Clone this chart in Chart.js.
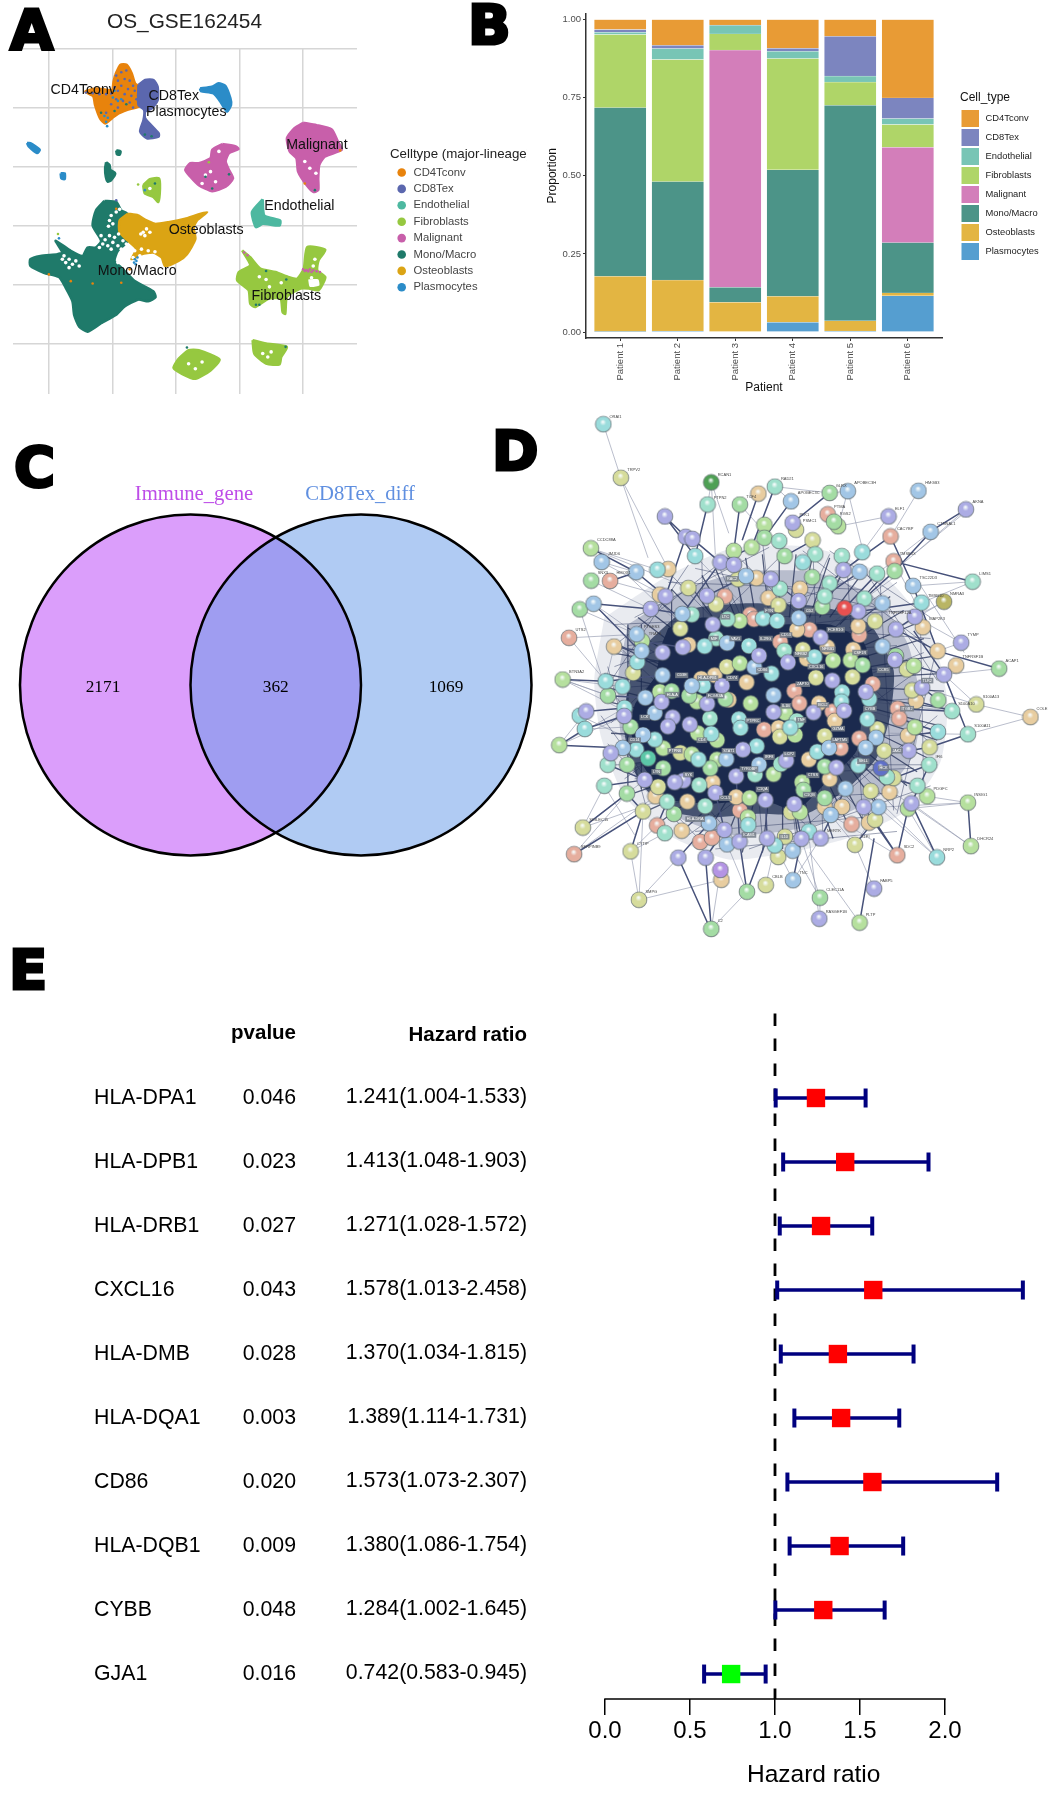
<!DOCTYPE html>
<html>
<head>
<meta charset="utf-8">
<title>OS_GSE162454</title>
<script src="https://cdn.jsdelivr.net/npm/chart.js@4"></script>
<style>
  html, body { margin: 0; background: #fff; width: 1054px; height: 1794px; overflow: hidden; }
  canvas { position: absolute; }
  .tag { position: absolute; font: bold 56px "DejaVu Sans"; line-height: 56px; color: #000; -webkit-text-stroke: 3px #000; }
</style>
</head>
<body>
<canvas id="umap" width="527" height="400" style="left:0;top:0"></canvas>
<canvas id="stack" width="527" height="400" style="left:527px;top:0"></canvas>
<canvas id="venn" width="570" height="550" style="left:0;top:400px"></canvas>
<canvas id="network" width="527" height="550" style="left:527px;top:400px"></canvas>
<canvas id="forest" width="1054" height="792" style="left:0;top:1002px"></canvas>
<div class="tag" style="left:10px;top:2px">A</div>
<div class="tag" style="left:468px;top:-3px">B</div>
<div class="tag" style="left:14px;top:439px">C</div>
<div class="tag" style="left:492px;top:423px">D</div>
<div class="tag" style="left:9px;top:942px">E</div>
<script>
// ---- panel A: cluster outlines on the UMAP plane (axes carry no numbers)
const cellTypes = ['CD4Tconv', 'CD8Tex', 'Endothelial', 'Fibroblasts', 'Malignant', 'Mono/Macro', 'Osteoblasts', 'Plasmocytes'];
const umapColors = ['#E8830C', '#5B67AE', '#4DB8A0', '#96C840', '#C85FAA', '#1F7A6A', '#DBA414', '#2B8CC8'];
const umapGridX = [146, 334, 522, 711, 900];
const umapGridY = [146, 320, 495, 670, 845, 1020];

const cd4Outline = [[342,223],[357,193],[376,193],[391,218],[401,248],[421,263],[421,312],[376,327],[352,337],[332,352],[312,367],[297,352],[282,312],[277,287],[253,272],[287,263],[332,268],[337,243]];
const cd8Outline = [[411,253],[431,238],[456,238],[468,258],[468,298],[451,322],[431,332],[431,352],[471,396],[471,406],[436,411],[416,391],[426,357],[428,327],[411,312]];
const plasmaOutline = [[594,263],[629,258],[649,248],[669,255],[684,292],[686,312],[674,332],[654,302],[634,278],[596,271]];
const plasmaSmallA = [[80,425],[90,425],[118,445],[110,455],[85,435]];
const plasmaSmallB = [[180,515],[192,515],[192,532],[182,530]];
const malignantBig = [[900,365],[940,372],[985,385],[1003,420],[1015,445],[965,465],[948,490],[945,530],[945,565],[930,570],[910,550],[885,510],[880,470],[860,450],[852,410],[875,380]];
const malignantSmall = [[660,428],[700,435],[708,443],[680,455],[670,480],[680,505],[692,530],[670,555],[630,568],[590,550],[565,525],[550,505],[565,485],[590,485],[625,470],[630,445]];
const fibroSmall = [[425,550],[445,532],[472,530],[475,560],[470,600],[455,585],[430,575]];
const fibroLarge = [[719,744],[743,764],[773,798],[818,808],[857,823],[882,828],[902,798],[912,734],[966,742],[946,773],[942,803],[966,823],[946,862],[917,857],[892,857],[852,882],[847,932],[839,927],[833,887],[798,887],[758,912],[743,902],[738,862],[704,833],[709,808],[743,788]];
const fibroHole = [[915,830],[945,830],[948,848],[920,852]];
const fibroBottomA = [[530,1065],[560,1040],[590,1040],[652,1068],[625,1100],[580,1125],[540,1110],[515,1092]];
const fibroBottomB = [[750,1010],[790,1020],[852,1030],[835,1060],[830,1082],[790,1080],[755,1050]];
const endoOutline = [[780,592],[785,640],[832,655],[830,670],[780,665],[760,675],[748,630]];
const osteoOutline = [[380,635],[410,640],[435,655],[460,665],[500,660],[550,650],[580,640],[615,630],[585,655],[575,675],[580,710],[555,755],[530,775],[490,790],[480,765],[455,750],[420,755],[390,770],[405,740],[380,715],[355,690],[355,655]];
const monoOutline = [[310,597],[345,600],[360,625],[378,635],[355,655],[355,690],[380,715],[350,745],[340,775],[360,795],[385,820],[400,835],[455,865],[462,883],[440,895],[410,890],[370,910],[345,935],[300,960],[260,985],[235,970],[220,935],[215,895],[195,855],[175,823],[130,810],[90,790],[90,770],[120,760],[170,755],[185,750],[165,715],[210,745],[245,760],[260,735],[285,735],[300,715],[275,670],[285,625]];
const monoSmallA = [[315,482],[325,490],[328,505],[342,515],[330,535],[320,540],[314,525],[312,500]];
const monoSmallB = [[345,447],[358,450],[355,460],[347,458]];

const umapGaps = [[300,700],[312,712],[325,700],[340,705],[352,695],[305,725],[320,730],[335,720],[350,730],[365,715],[375,725],[360,740],[295,735],[330,740],[355,770],[370,755],[385,750],[400,745],[365,785],[350,780],[380,770],[395,765],[415,760],[420,740],[440,745],[460,748],[445,760],[425,690],[435,680],[445,690],[430,700],[418,695],[185,770],[195,780],[205,770],[215,785],[225,775],[235,790],[205,795],[190,760],[330,640],[325,655],[335,665],[322,672],[345,630],[355,622],[790,830],[770,822],[835,840],[800,852],[930,790],[935,770],[925,825],[650,450],[640,540],[600,545],[625,510],[610,520],[905,480],[920,500],[938,515],[560,1080],[600,1075],[580,1095],[780,1050],[805,1045],[795,1060],[445,560],[350,1090]];
const umapSpecks = {
  'CD4Tconv': [[385,800],[145,815],[210,835],[275,842],[360,840],[905,545],[1010,447],[345,620]],
  'CD8Tex': [[345,595],[255,275],[275,277],[295,280],[315,280],[330,278],[345,225],[360,215],[375,210],[350,240],[370,235],[385,240],[395,255],[360,255],[340,260],[380,265],[400,270],[350,270],[370,280],[390,285],[405,295],[385,305],[365,300],[345,295],[330,310],[350,320],[315,335],[395,320],[410,285],[440,400],[460,400]],
  'Fibroblasts': [[620,482],[172,695],[410,548]],
  'Malignant': [[725,750],[735,758],[900,800],[910,802],[920,800],[930,803],[940,806],[950,808],[905,805],[915,806],[925,808],[610,530]],
  'Mono/Macro': [[790,805],[850,830],[760,905],[430,400],[450,405],[610,525],[630,560],[680,518],[460,545],[935,565],[555,1032],[848,1030],[770,905],[300,335],[340,330],[375,310]],
  'Plasmocytes': [[335,290],[350,300],[320,350],[315,362],[360,295],[400,770],[405,775],[408,765],[398,780],[403,785],[175,708],[430,565],[340,270],[310,345],[318,375]]
};
const umapLabels = [['CD4Tconv',247,268],['CD8Tex',516,285],['Plasmocytes',553,334],['Malignant',941,432],['Endothelial',889,613],['Osteoblasts',612,682],['Mono/Macro',407,804],['Fibroblasts',850,880]];

// ---- panel B: proportion per patient, bottom of the stack first
const patients = ['Patient 1', 'Patient 2', 'Patient 3', 'Patient 4', 'Patient 5', 'Patient 6'];
const stackOrder = ['Plasmocytes', 'Osteoblasts', 'Mono/Macro', 'Malignant', 'Fibroblasts', 'Endothelial', 'CD8Tex', 'CD4Tconv'];
const plasmocytes = [0.002, 0.003, 0, 0.031, 0.003, 0.116];
const osteoblasts = [0.176, 0.163, 0.095, 0.083, 0.033, 0.009];
const monoMacro = [0.540, 0.315, 0.048, 0.405, 0.689, 0.161];
const malignant = [0, 0, 0.759, 0, 0, 0.305];
const fibroblasts = [0.234, 0.391, 0.052, 0.356, 0.075, 0.073];
const endothelial = [0.007, 0.035, 0.027, 0.023, 0.019, 0.019];
const cd8tex = [0.009, 0.010, 0.001, 0.010, 0.127, 0.066];
const cd4tconv = [0.032, 0.083, 0.018, 0.092, 0.054, 0.251];
const stackColors = { 'CD4Tconv': '#E89B35', 'CD8Tex': '#7C85BF', 'Endothelial': '#78C5B5', 'Fibroblasts': '#AFD568', 'Malignant': '#D37EBA', 'Mono/Macro': '#4C9488', 'Osteoblasts': '#E3B542', 'Plasmocytes': '#559ED0' };
const proportionTicks = [0, 0.25, 0.5, 0.75, 1];

// ---- panel C: set sizes
const vennSets = ['Immune_gene', 'CD8Tex_diff'];
const vennCounts = [2171, 362, 1069];

// ---- panel D: STRING network, layout units (axes carry no numbers)
const nodesLavender = [[1305,312],[410,332],[1075,332],[790,350],[472,390],[492,396],[575,463],[615,470],[941,485],[725,511],[535,558],[412,560],[808,573],[368,596],[985,603],[1153,618],[552,640],[1097,654],[873,677],[463,705],[1291,692],[403,720],[690,729],[1094,741],[776,748],[1240,783],[908,800],[580,815],[1175,820],[1007,832],[536,866],[400,861],[176,888],[733,890],[852,891],[943,886],[289,901],[433,905],[484,925],[419,931],[642,997],[1135,1000],[249,1007],[771,1028],[920,1048],[622,1073],[350,1083],[465,1085],[439,1090],[560,1120],[709,1141],[1143,1150],[795,1152],[1001,1161],[587,1226],[632,1259],[714,1250],[816,1251],[873,1250],[450,1305],[531,1305],[1032,1393],[869,1479]];
const nodesBlue = [[1164,259],[785,289],[1200,376],[222,462],[325,491],[989,490],[651,502],[1148,530],[1057,580],[198,581],[462,610],[808,622],[326,668],[595,693],[1057,703],[341,716],[676,762],[403,785],[490,815],[733,842],[352,849],[380,892],[345,955],[1038,963],[285,992],[898,992],[1007,992],[593,1024],[690,1040],[947,1108],[1045,1161],[903,1183],[541,1207],[595,1267],[790,1285],[791,1369],[954,260]];
const nodesTeal = [[227,69],[997,434],[500,445],[820,463],[388,484],[1173,578],[702,623],[744,630],[660,701],[528,702],[855,733],[328,747],[727,780],[234,802],[524,815],[284,817],[937,833],[1018,853],[290,878],[935,860],[157,900],[630,910],[1012,910],[172,938],[635,935],[783,934],[1222,946],[548,952],[380,968],[683,987],[325,997],[863,1003],[510,1025],[985,1042],[658,1212],[838,1230],[737,1270],[1219,1304]];
const nodesMint = [[737,247],[537,298],[750,402],[936,445],[857,440],[1041,495],[900,523],[1325,518],[752,538],[885,560],[1003,566],[490,612],[596,625],[562,680],[765,715],[544,908],[1264,887],[802,915],[1311,953],[755,1038],[240,1040],[1196,1040],[678,1068],[1070,1075],[512,1098],[1161,1100],[230,1100],[417,1145],[530,1158],[410,1235]];
const nodesGreen = [[900,265],[633,298],[913,347],[706,393],[766,445],[1093,488],[191,515],[848,505],[878,590],[157,597],[241,843],[430,830],[998,756],[1097,730],[482,843],[590,853],[1223,856],[308,932],[298,1040],[405,1050],[545,1050],[885,1045],[297,1122],[822,1112],[885,1135],[437,1180],[654,1402],[871,1419],[548,1508],[1404,766]];
const nodesLime = [[925,360],[706,356],[190,423],[668,420],[615,430],[632,630],[342,688],[910,743],[962,742],[633,751],[1150,758],[106,797],[395,832],[505,860],[665,865],[768,892],[508,950],[797,955],[1153,933],[565,970],[96,984],[405,993],[490,1010],[565,1025],[733,1067],[818,1090],[1190,1130],[662,1135],[1311,1148],[1133,1165],[812,1175],[657,1190],[1320,1272],[989,1490]];
const nodesOlive = [[279,222],[800,370],[849,400],[628,511],[480,536],[562,583],[748,585],[1035,631],[456,652],[820,712],[594,761],[1130,768],[316,778],[859,792],[968,790],[1145,828],[1336,868],[1042,938],[752,960],[885,958],[1197,990],[1062,1000],[456,1006],[1090,1078],[390,1103],[1022,1115],[785,1175],[345,1173],[1035,1197],[166,1219],[767,1245],[975,1268],[308,1287],[747,1303],[710,1383],[333,1425]];
const nodesTan = [[688,267],[420,482],[682,508],[812,538],[395,555],[718,565],[985,645],[803,655],[1177,648],[480,698],[259,703],[893,705],[970,712],[1221,716],[832,738],[1276,757],[558,785],[518,795],[653,805],[600,855],[1157,858],[868,865],[1497,904],[915,915],[748,935],[1133,957],[838,1025],[552,1090],[900,1081],[1078,1118],[382,1130],[622,1132],[477,1145],[885,1160],[937,1160],[1017,1205],[460,1228],[578,1368]];
const nodesSalmon = [[894,326],[1081,389],[1090,460],[247,516],[588,560],[664,612],[675,625],[840,655],[988,670],[125,678],[753,690],[1028,810],[795,830],[810,865],[908,888],[1102,880],[705,940],[1107,908],[988,965],[933,993],[633,1170],[965,1210],[387,1213],[515,1260],[550,1248],[140,1295],[1101,1298]];
const nodesDarkGreen = [[548,235]];
const nodesRed = [[944,594]];
const nodesDarkOlive = [[1240,575]];
const nodesEmerald = [[360,1022]];
const nodesDarkBlue = [[1052,1050]];
const nodesPurple = [[575,1340]];
const nodeGroups = [
  [nodesSalmon, '#E6AE9E'], [nodesTan, '#E8CDA0'], [nodesOlive, '#D6DC9C'], [nodesLime, '#B6E09E'], [nodesGreen, '#A4DCA4'],
  [nodesMint, '#A0E0CC'], [nodesTeal, '#9ADCDC'], [nodesBlue, '#A2C6E6'], [nodesLavender, '#ACACE4'], [nodesDarkGreen, '#4FA055'],
  [nodesRed, '#E85050'], [nodesDarkOlive, '#B9B565'], [nodesEmerald, '#5CC8A8'], [nodesDarkBlue, '#6070C8'], [nodesPurple, '#B494E4']
];

const coreOutline = [[420,650],[520,620],[700,640],[900,640],[1000,690],[1030,800],[1000,880],[980,1000],[900,1080],[800,1170],[700,1140],[560,1150],[430,1140],[350,1050],[310,950],[320,870],[380,790],[400,700]];
const coreHalo = [[360,690],[470,600],[640,580],[880,590],[1020,640],[1090,770],[1080,900],[1040,1020],[950,1110],[830,1180],[680,1180],[540,1190],[420,1170],[330,1080],[290,950],[300,820]];
const ringOutline = [[300,640],[470,540],[640,490],[850,490],[1030,560],[1130,690],[1170,860],[1150,1010],[1060,1120],[900,1200],[760,1230],[600,1240],[450,1190],[330,1090],[280,960],[270,800]];
const hazeOutline = [[230,620],[420,500],[620,420],[850,420],[1060,500],[1200,660],[1250,860],[1230,1030],[1130,1170],[950,1250],[780,1290],[600,1310],[420,1240],[290,1130],[220,960],[200,800]];
const strongEdges = [[1325,518,1090,460],[190,423,325,491],[248,516,325,491],[198,581,370,596],[198,581,340,720],[450,1305,545,1508],[531,1305,548,1508],[632,1259,654,1402],[714,1250,654,1402],[816,1251,791,1369],[989,1490,1032,1250],[1101,1298,1001,1161],[1219,1304,1143,1150],[1101,1298,1020,1180],[166,1219,297,1122],[140,1295,345,1173],[96,984,285,992],[96,984,172,938],[1311,1148,1320,1272],[1221,716,1404,766],[1221,716,1097,654],[1240,783,1311,953],[1240,783,1150,658],[1200,376,1093,488],[1305,312,1190,380],[1081,389,941,485],[1081,389,1148,530],[1148,530,1221,716],[537,298,500,445],[410,332,500,445],[633,298,615,430],[737,247,668,420],[688,267,640,400],[785,289,706,393],[900,265,790,350],[410,332,472,390],[492,396,575,463],[472,390,412,560],[325,491,412,560],[575,463,462,610],[462,610,368,596],[941,485,900,523],[989,490,885,560],[1041,495,944,594],[1173,578,985,603],[1153,618,1097,654],[1264,887,1102,880],[1311,953,1197,990],[1222,946,1107,908],[1196,1040,1090,1078],[1143,1150,1196,1040],[873,1250,947,1108],[816,1251,795,1152],[714,1250,709,1141],[632,1259,622,1073],[587,1226,560,1120],[450,1305,541,1207],[531,1305,587,1226],[308,1287,345,1173],[345,1173,297,1122],[387,1213,417,1145],[230,1100,350,1083],[240,1040,350,1083],[172,938,289,901],[176,888,290,878],[241,843,352,849],[234,802,403,785],[106,797,234,802],[326,668,403,720],[259,703,341,716],[342,688,463,705],[1094,741,1240,783],[1175,820,1223,856],[1157,858,1264,887],[1133,957,1222,946],[1197,990,1135,1000],[1161,1100,1070,1075],[1022,1115,1045,1161],[975,1268,1035,1197],[1101,1298,1133,1165],[535,558,651,502],[725,511,808,573],[850,400,766,445],[668,420,575,463],[1093,488,1003,566]];
const faintEdges = [[227,69,279,222],[279,222,360,450],[279,222,420,482],[537,298,548,235],[548,235,600,380],[548,235,560,440],[633,298,700,370],[737,247,785,289],[737,247,900,265],[900,265,954,260],[954,260,1000,434],[954,260,925,360],[1164,259,1075,400],[1075,332,997,434],[1075,332,925,360],[1200,376,1041,495],[1290,330,1100,480],[190,423,480,536],[190,423,388,484],[222,462,412,560],[222,462,325,491],[191,515,368,596],[247,516,395,555],[157,597,326,668],[157,597,241,843],[198,581,403,720],[125,678,326,668],[125,678,234,802],[259,703,234,802],[259,703,328,747],[106,797,284,817],[106,797,241,843],[106,797,234,840],[96,984,176,888],[96,984,290,878],[172,938,308,932],[166,1219,230,1100],[166,1219,350,1083],[140,1295,297,1122],[308,1287,387,1213],[308,1287,410,1235],[333,1425,450,1305],[333,1425,578,1368],[333,1425,345,1173],[333,1425,308,1287],[548,1508,654,1402],[548,1508,575,1340],[654,1402,595,1267],[710,1383,737,1270],[791,1369,737,1270],[791,1369,873,1250],[871,1419,790,1285],[871,1419,816,1251],[869,1479,871,1419],[869,1479,840,1260],[989,1490,840,1290],[1032,1393,975,1268],[975,1268,903,1183],[975,1268,1017,1205],[1101,1298,903,1183],[1219,1304,1045,1161],[1219,1304,1133,1165],[1320,1272,1143,1150],[1311,1148,1190,1130],[1311,1148,1133,1165],[1311,1148,1045,1161],[1311,953,1497,904],[1497,904,1336,868],[1336,868,1240,783],[1336,868,1175,820],[1404,766,1240,783],[1291,692,1221,716],[1291,692,1153,618],[1240,575,1097,654],[1240,575,1153,618],[1173,578,1325,518],[1325,518,1148,530],[1305,312,1150,440],[1090,460,1200,660],[1164,520,1300,720],[300,500,520,700],[500,445,700,640],[1000,434,800,640],[1100,500,900,640],[140,1295,440,1090],[166,1219,400,1140],[230,1100,320,1240],[1219,1304,1000,1100],[1320,1272,1060,1100],[1311,953,1080,950],[1222,946,1000,880],[1264,887,1020,860],[106,797,360,920],[96,984,340,880],[172,938,400,860],[157,900,380,1000]];
const meshEdges = [[300,700,1000,620],[300,750,1100,700],[280,820,1150,760],[300,900,1180,850],[280,1000,1200,950],[320,1080,1150,1050],[400,1150,1100,1120],[500,1230,1000,1190],[420,520,1000,540],[500,480,1080,600],[450,620,1200,680],[620,420,700,1250],[700,400,800,1250],[850,420,880,1250],[950,450,1000,1220],[1050,520,1090,1170],[520,460,540,1210],[430,540,430,1180],[340,640,340,1110],[1170,640,1180,1120],[560,450,900,1200],[900,440,520,1220],[1060,500,430,1150],[430,500,1100,1170],[300,680,1150,1100],[1180,720,320,1050],[260,760,1000,500],[250,920,760,440],[290,1080,1100,520],[480,1240,1180,760],[760,1270,1220,900],[270,700,860,1240],[380,560,1020,1200],[620,440,1200,980],[250,830,640,1280],[240,980,520,1260],[820,430,1190,700],[1000,480,1220,800],[480,470,250,800],[620,430,260,700],[240,1040,1220,1040],[260,640,1160,600],[560,1280,1100,1230],[660,1280,1200,1100],[460,1220,220,900],[360,1180,240,760],[720,420,320,620],[900,430,1200,620],[300,640,300,1100],[1220,700,1100,1180]];
const spokeEdges = [[250,720,480,760],[230,780,470,830],[240,860,420,900],[250,950,460,960],[280,1040,470,1020],[320,1120,500,1060],[400,1200,560,1090],[520,1260,620,1100],[640,1290,680,1120],[760,1280,760,1130],[860,1270,820,1120],[960,1220,880,1060],[1050,1170,940,1020],[1130,1100,980,980],[1190,1020,1020,940],[1230,930,1030,880],[1240,830,1020,820],[1210,730,1020,760],[1150,640,1000,700],[1080,560,960,650],[1000,490,900,620],[900,450,840,620],[800,440,780,620],[700,440,720,620],[610,460,650,620],[520,500,590,620],[430,540,530,640],[360,600,470,680],[300,650,420,720],[270,700,410,760],[260,690,440,790],[240,820,400,860],[270,990,440,990],[360,1170,520,1100],[460,1230,590,1120],[580,1280,650,1110],[700,1290,720,1120],[810,1280,790,1130],[910,1250,850,1080],[1000,1200,910,1040],[1100,1130,960,1010],[1160,1060,1000,960],[1220,970,1030,910],[1245,880,1030,850],[1230,780,1030,790],[1180,680,1010,730],[1120,600,980,680],[1040,520,930,640],[950,470,870,620],[850,440,810,620],[750,430,750,620],[650,450,680,620],[560,480,620,620],[480,520,560,630],[390,570,500,660],[330,620,440,700]];
const nodeNames = [['ORAI1',245,47],['TRPV2',298,200],['RCAN1',567,213],['RAD21',755,226],['GLRX',918,244],['APOBEC3H',973,237],['HMGB3',1184,237],['AKNA',1325,290],['ELF1',1094,310],['CTNNAL1',1220,354],['CACYBP',1100,367],['TMSB4X',1108,440],['LIMS1',1345,496],['TSC22D3',1167,508],['CCDC88A',208,400],['JMJD6',240,440],['SNX3',210,493],['HMOX1',266,493],['UTS2',144,655],['BTN3A2',125,775],['PTGES3',347,647],['TRAT1',362,668],['TMSB10',1192,558],['NMRA3',1258,553],['TYMP',1310,669],['ACAP1',1423,745],['COLE',1515,882],['S100A13',1355,845],['S100A10',1282,865],['S100A11',1330,930],['INSIG1',1330,1125],['DHCR24',1339,1250],['NRP2',1238,1282],['SDC2',1120,1275],['SLPI',993,1246],['MERTK',892,1228],['FABP5',1050,1371],['CLEC11A',890,1397],['RASGEF1B',888,1458],['PLTP',1007,1469],['C2',567,1486],['SMPG',352,1403],['CYTIP',327,1265],['SERPINB9',160,1273],['SIGLEC15',185,1197],['CBLB',729,1360],['TNC',810,1348],['IFI6',1215,1017],['PDGFC',1209,1108],['TNFRSF12A',1075,608],['TNFRSF1B',1295,733],['MAP2K3',1196,625],['TCF4',652,276],['PTPN2',555,278],['APOBEC3C',805,265],['PSMC1',820,345],['PLK1',810,327],['PTMA',913,304],['RGS2',930,325]];
const coreNames = [['LTC',590,618],['MIF',556,680],['NFKB2',815,725],['NFKB1',895,711],['HLA-DPB1',537,793],['HLA-A',432,840],['PTPRC',672,914],['TNF',815,912],['IL1B',770,872],['FCGR3A',560,843],['BCL2',880,869],['GZMA',925,937],['CD74',610,793],['CD86',700,770],['CXCL16',860,760],['CD4',520,970],['CD14',320,970],['LYN',385,1060],['STAT1',600,1000],['IRF8',720,1018],['TYROBP',660,1052],['CTSS',850,1070],['LCP2',780,1010],['SYK',480,1068],['CCL5',590,1135],['C1QA',700,1110],['C1QB',840,1125],['LAPTM5',930,970],['CYBB',1020,880],['HCK',1060,1050],['ITGB2',1130,880],['CSF1R',990,720],['CD53',770,670],['FCER1G',918,655],['VAV1',620,680],['IL2RG',710,680],['CD3E',460,785],['LCK',350,905],['PTPN6',440,1000],['ZAP70',820,810],['CD2',840,600],['FYN',720,600],['RAC2',610,510],['HLA-DRA',500,1195],['ICAM1',660,1240],['IL10',765,1245],['JAK2',1100,1000],['TLR2',1190,800],['CCR5',1060,770],['SELL',1000,1030]];

// ---- panel E: Cox hazard ratios
const genes = ['HLA-DPA1', 'HLA-DPB1', 'HLA-DRB1', 'CXCL16', 'HLA-DMB', 'HLA-DQA1', 'CD86', 'HLA-DQB1', 'CYBB', 'GJA1'];
const pvalues = ['0.046', '0.023', '0.027', '0.043', '0.028', '0.003', '0.020', '0.009', '0.048', '0.016'];
const hazard = [1.241, 1.413, 1.271, 1.578, 1.370, 1.389, 1.573, 1.380, 1.284, 0.742];
const hazardLow = [1.004, 1.048, 1.028, 1.013, 1.034, 1.114, 1.073, 1.086, 1.002, 0.583];
const hazardHigh = [1.533, 1.903, 1.572, 2.458, 1.815, 1.731, 2.307, 1.754, 1.645, 0.945];
const hazardTicks = [0, 0.5, 1, 1.5, 2];

Chart.defaults.animation = false;
Chart.defaults.responsive = false;
Chart.defaults.font.family = '"Liberation Sans"';
Chart.defaults.plugins.legend.display = false;
Chart.defaults.plugins.tooltip.enabled = false;
// big markers must not shrink the plot area, the panels are laid out by hand
Chart.ScatterController.prototype.getMaxOverflow = () => 0;
Chart.BubbleController.prototype.getMaxOverflow = () => 0;

function txt(ctx, s, x, y, font, color, align) {
  ctx.save();
  ctx.font = font;
  ctx.fillStyle = color;
  ctx.textAlign = align || 'left';
  ctx.textBaseline = 'middle';
  ctx.fillText(s, x, y);
  ctx.restore();
}

function toPoints(list) { return list.map(p => ({ x: p[0], y: p[1] })); }
function closed(list) { return toPoints(list.concat([list[0]])); }

function blob(list, color, edge) {
  return { data: closed(list), showLine: true, fill: 'shape', tension: 0.2, backgroundColor: color, borderColor: color, borderWidth: edge === undefined ? 2.5 : edge, pointRadius: 0 };
}
function segments(list, color, width) {
  return { data: list.flatMap(e => [{ x: e[0], y: e[1] }, { x: e[2], y: e[3] }, { x: e[0], y: null }]), showLine: true, borderColor: color, borderWidth: width, pointRadius: 0, spanGaps: false };
}
function hiddenAxis(min, max, reverse) {
  return { type: 'linear', display: false, min: min, max: max, reverse: !!reverse };
}

// ---- A
const umapLayers = [
  blob(monoOutline, umapColors[5]), blob(monoSmallA, umapColors[5]), blob(monoSmallB, umapColors[5]),
  blob(osteoOutline, umapColors[6]), blob(cd4Outline, umapColors[0]), blob(cd8Outline, umapColors[1]),
  blob(plasmaOutline, umapColors[7]), blob(plasmaSmallA, umapColors[7]), blob(plasmaSmallB, umapColors[7]),
  blob(malignantBig, umapColors[4]), blob(malignantSmall, umapColors[4]), blob(endoOutline, umapColors[2]),
  blob(fibroSmall, umapColors[3]), blob(fibroLarge, umapColors[3]), blob(fibroHole, '#fff', 0), blob(fibroBottomA, umapColors[3]), blob(fibroBottomB, umapColors[3]),
  { data: toPoints(umapGaps), pointRadius: 1.8, pointBackgroundColor: '#fff', pointBorderWidth: 0 }
];
Object.keys(umapSpecks).forEach(name => {
  umapLayers.push({ data: toPoints(umapSpecks[name]), pointRadius: 1.3, pointBorderWidth: 0, pointBackgroundColor: umapColors[cellTypes.indexOf(name)] });
});

new Chart(document.getElementById('umap'), {
  type: 'scatter',
  data: { datasets: umapLayers.reverse() },
  options: {
    layout: { padding: { left: 12.5, right: 170, top: 49, bottom: 6 } },
    scales: {
      x: { type: 'linear', min: 37, max: 1060, border: { display: false }, ticks: { display: false, autoSkip: false }, grid: { color: '#d6d6d6', lineWidth: 1.5, drawTicks: false },
           afterBuildTicks: s => { s.ticks = umapGridX.map(v => ({ value: v })); }, afterFit: s => { s.height = 0; } },
      y: { type: 'linear', min: 146, max: 1170, reverse: true, border: { display: false }, ticks: { display: false, autoSkip: false }, grid: { color: '#d6d6d6', lineWidth: 1.5, drawTicks: false },
           afterBuildTicks: s => { s.ticks = umapGridY.map(v => ({ value: v })); }, afterFit: s => { s.width = 0; } }
    }
  },
  plugins: [{
    id: 'umapText',
    afterDraw(chart) {
      const ctx = chart.ctx, sx = chart.scales.x, sy = chart.scales.y;
      txt(ctx, 'OS_GSE162454', 184.5, 22.5, '20.8px "Liberation Sans"', '#222', 'center');
      umapLabels.forEach(l => txt(ctx, l[0], sx.getPixelForValue(l[1]), sy.getPixelForValue(l[2]), '14.2px "Liberation Sans"', '#111', 'center'));
      txt(ctx, 'Celltype (major-lineage)', 390, 154.5, '13.3px "Liberation Sans"', '#222');
      cellTypes.forEach((name, i) => {
        const y = 172.5 + i * 16.4;
        ctx.beginPath();
        ctx.arc(401.7, y, 4.3, 0, Math.PI * 2);
        ctx.fillStyle = umapColors[i];
        ctx.fill();
        txt(ctx, name, 413.5, y, '11.3px "Liberation Sans"', '#444');
      });
    }
  }]
});

// ---- B
const stackValues = [plasmocytes, osteoblasts, monoMacro, malignant, fibroblasts, endothelial, cd8tex, cd4tconv];
new Chart(document.getElementById('stack'), {
  type: 'bar',
  data: {
    datasets: stackOrder.map((name, i) => ({
      label: name,
      data: stackValues[i].map((v, p) => ({ x: p + 1, y: v })),
      backgroundColor: stackColors[name],
      borderColor: 'rgba(255,255,255,0.55)',
      borderWidth: 0.5,
      barThickness: 52
    }))
  },
  options: {
    layout: { padding: { right: 112, top: 13.5 } },
    scales: {
      x: {
        type: 'linear', stacked: true, min: 0.405, max: 6.595, offset: false,
        border: { color: '#333', width: 1.5 },
        grid: { offset: false, drawOnChartArea: false, tickLength: 3, color: '#333' },
        ticks: { autoSkip: false, minRotation: 90, maxRotation: 90, padding: 2, color: '#4d4d4d', font: { size: 9.5 }, callback: v => patients[v - 1] },
        title: { display: true, text: 'Patient', color: '#111', font: { size: 12 }, padding: { top: 0, bottom: 5 } },
        afterBuildTicks: s => { s.ticks = patients.map((p, i) => ({ value: i + 1 })); },
        afterFit: s => { s.height = 62; }
      },
      y: {
        stacked: true, min: -0.0192, max: 1.0192,
        border: { color: '#333', width: 1.5 },
        grid: { drawOnChartArea: false, tickLength: 3, color: '#333' },
        ticks: { padding: 2, color: '#4d4d4d', font: { size: 9.5 }, callback: v => v.toFixed(2) },
        title: { display: true, text: 'Proportion', color: '#111', font: { size: 12 }, padding: { top: 18, bottom: 0 } },
        afterBuildTicks: s => { s.ticks = proportionTicks.map(v => ({ value: v })); },
        afterFit: s => { s.width = 59; }
      }
    }
  },
  plugins: [{
    id: 'stackLegend',
    afterDraw(chart) {
      const ctx = chart.ctx;
      txt(ctx, 'Cell_type', 433, 97.5, '12px "Liberation Sans"', '#111');
      cellTypes.forEach((name, i) => {
        const y = 110 + i * 19;
        ctx.fillStyle = stackColors[name];
        ctx.fillRect(434.5, y, 17.5, 17);
        txt(ctx, name, 458.5, y + 8.7, '9.4px "Liberation Sans"', '#222');
      });
    }
  }]
});

// ---- C
const vennLayers = [
  { data: [{ x: 190.5, y: 285 }], backgroundColor: '#DB9EFB', borderWidth: 0 },
  { data: [{ x: 361, y: 285 }], backgroundColor: 'rgba(106,157,232,0.53)', borderWidth: 0 },
  { data: [{ x: 190.5, y: 285 }, { x: 361, y: 285 }], backgroundColor: 'rgba(0,0,0,0)', borderColor: '#000', borderWidth: 2.5 }
];
vennLayers.forEach(d => { d.radius = 170.5; d.clip = false; });
new Chart(document.getElementById('venn'), {
  type: 'bubble',
  data: { datasets: vennLayers.reverse() },
  options: { scales: { x: hiddenAxis(0, 570), y: hiddenAxis(0, 550, true) } },
  plugins: [{
    id: 'vennText',
    afterDraw(chart) {
      const ctx = chart.ctx, sx = chart.scales.x, sy = chart.scales.y, serif = '"Liberation Serif"';
      txt(ctx, vennSets[0], sx.getPixelForValue(194), sy.getPixelForValue(95), '20.7px ' + serif, '#BE4DE8', 'center');
      txt(ctx, vennSets[1], sx.getPixelForValue(360), sy.getPixelForValue(95), '20.7px ' + serif, '#5F8FE0', 'center');
      [103, 275.7, 446].forEach((x, i) => txt(ctx, String(vennCounts[i]), sx.getPixelForValue(x), sy.getPixelForValue(287), '17.3px ' + serif, '#000', 'center'));
    }
  }]
});

// ---- D
function sphere(color) {
  const c = document.createElement('canvas');
  c.width = c.height = 18;
  const g = c.getContext('2d');
  const grad = g.createRadialGradient(8.5, 6.5, 0.5, 9, 9, 8.2);
  grad.addColorStop(0, '#f6fbfb');
  grad.addColorStop(0.35, color);
  grad.addColorStop(0.85, color);
  grad.addColorStop(1, '#6c7a78');
  g.fillStyle = grad;
  g.beginPath();
  g.arc(9, 9, 8, 0, Math.PI * 2);
  g.fill();
  g.strokeStyle = 'rgba(70,80,90,0.55)';
  g.lineWidth = 0.7;
  g.stroke();
  return c;
}
const networkLayers = [
  blob(hazeOutline, 'rgba(120,128,160,0.16)', 0),
  blob(ringOutline, 'rgba(80,90,130,0.32)', 0),
  segments(faintEdges, 'rgba(140,146,170,0.75)', 0.8),
  segments(meshEdges, 'rgba(40,52,92,0.5)', 0.9),
  segments(spokeEdges, 'rgba(34,46,84,0.75)', 1.3),
  blob(coreHalo, 'rgba(27,42,78,0.72)', 0),
  blob(coreOutline, '#1B2A4E', 0),
  segments(strongEdges, '#47527A', 1.5)
];
nodeGroups.forEach(g => networkLayers.push({ data: toPoints(g[0]), pointStyle: sphere(g[1]), pointRadius: 8 }));
new Chart(document.getElementById('network'), {
  type: 'scatter',
  data: { datasets: networkLayers.reverse() },
  options: { scales: { x: hiddenAxis(0, 1567), y: hiddenAxis(0, 1568, true) } },
  plugins: [{
    id: 'networkText',
    afterDraw(chart) {
      const ctx = chart.ctx, sx = chart.scales.x, sy = chart.scales.y;
      nodeNames.forEach(n => txt(ctx, n[0], sx.getPixelForValue(n[1]), sy.getPixelForValue(n[2]), '4px "Liberation Sans"', '#444'));
      coreNames.forEach(n => {
        ctx.font = '3.8px "Liberation Sans"';
        const w = ctx.measureText(n[0]).width + 3, x = sx.getPixelForValue(n[1]), y = sy.getPixelForValue(n[2]);
        ctx.fillStyle = 'rgba(120,128,138,0.88)';
        ctx.fillRect(x - w / 2, y - 2.8, w, 5.6);
        txt(ctx, n[0], x, y, '3.8px "Liberation Sans"', '#fff', 'center');
      });
    }
  }]
});

// ---- E
const rows = genes.map((g, i) => i + 1);
const forestLayers = [
  { data: [{ x: 1, y: -0.32 }, { x: 1, y: 10.39 }], showLine: true, borderColor: '#000', borderWidth: 2.8, borderDash: [12.5, 12.5], pointRadius: 0 },
  { data: rows.flatMap((r, i) => [{ x: hazardLow[i], y: r }, { x: hazardHigh[i], y: r }, { x: hazardLow[i], y: null }]),
    showLine: true, spanGaps: false, borderColor: '#00007F', borderWidth: 3.5, pointStyle: 'line', rotation: 90, pointRadius: 9.5, pointBorderWidth: 4, pointBorderColor: '#00007F' },
  { data: rows.map((r, i) => ({ x: hazard[i], y: r })), pointStyle: 'rect', pointRadius: 13, pointBorderWidth: 0,
    pointBackgroundColor: hazard.map(v => v < 1 ? '#00FF00' : '#FF0000') }
];
new Chart(document.getElementById('forest'), {
  type: 'scatter',
  data: { datasets: forestLayers.reverse() },
  options: {
    scales: {
      x: {
        type: 'linear', min: -3.5588, max: 2.6412,
        border: { display: false },
        grid: { drawOnChartArea: false, tickLength: 16, color: '#000', lineWidth: 1.5 },
        ticks: { autoSkip: false, maxRotation: 0, padding: 2, color: '#000', font: { size: 24 }, callback: v => v.toFixed(1) },
        afterBuildTicks: s => { s.ticks = hazardTicks.map(v => ({ value: v })); },
        afterFit: s => { s.height = 95; }
      },
      y: { type: 'linear', display: false, min: -0.5, max: 10.39, reverse: true }
    }
  },
  plugins: [{
    id: 'forestText',
    afterDraw(chart) {
      const ctx = chart.ctx, sx = chart.scales.x, sy = chart.scales.y, font = '21.3px "Liberation Sans"', bold = 'bold 20.5px "Liberation Sans"';
      const axisY = sy.getPixelForValue(10.39);
      ctx.strokeStyle = '#000';
      ctx.lineWidth = 1.5;
      ctx.beginPath();
      ctx.moveTo(sx.getPixelForValue(0) - 0.75, axisY);
      ctx.lineTo(sx.getPixelForValue(2) + 0.75, axisY);
      ctx.stroke();
      txt(ctx, 'pvalue', 296, sy.getPixelForValue(0) - 1, bold, '#000', 'right');
      txt(ctx, 'Hazard ratio', 527, sy.getPixelForValue(0) + 1, bold, '#000', 'right');
      genes.forEach((g, i) => {
        const y = sy.getPixelForValue(i + 1);
        txt(ctx, g, 94, y, font, '#000');
        txt(ctx, pvalues[i], 296, y, font, '#000', 'right');
        txt(ctx, hazard[i].toFixed(3) + '(' + hazardLow[i].toFixed(3) + '-' + hazardHigh[i].toFixed(3) + ')', 527, y - 1, font, '#000', 'right');
      });
      txt(ctx, 'Hazard ratio', 813.7, 773.5, '24.5px "Liberation Sans"', '#000', 'center');
    }
  }]
});
</script>
</body>
</html>
